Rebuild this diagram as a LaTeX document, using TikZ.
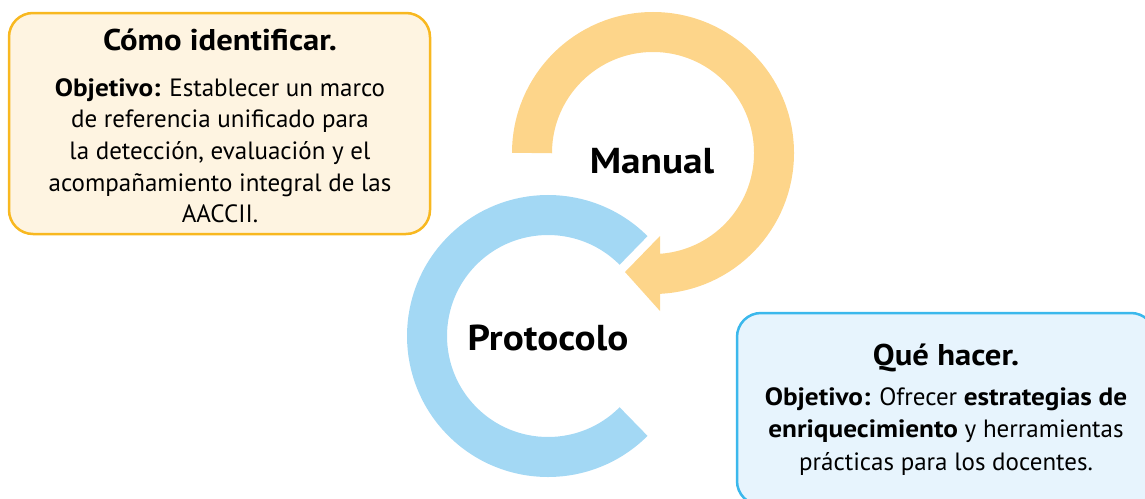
\documentclass[tikz,border=0pt]{standalone}
\usepackage{fontspec}
\setmainfont{PT Sans}[BoldFeatures={FakeStretch=1.09}]
\usetikzlibrary{calc}
\definecolor{arcorange}{HTML}{FDD58A}
\definecolor{arcblue}{HTML}{A3D8F4}
\definecolor{ybord}{HTML}{F8B820}
\definecolor{yfill}{HTML}{FEF4E1}
\definecolor{bbord}{HTML}{3BB8EC}
\definecolor{bfill}{HTML}{E7F4FD}
\tikzset{
  x=1pt, y=1pt,
  card/.style={draw, line width=2.5pt, rounded corners=24pt, inner sep=0pt, anchor=center},
  cardtitle/.style={anchor=base, inner sep=0pt, font=\fontsize{30}{34}\selectfont\bfseries},
  cardbody/.style={anchor=north, inner sep=0pt, align=center, font=\fontsize{25}{31.7}\selectfont},
  ringlabel/.style={inner sep=0pt, font=\fontsize{36}{40}\selectfont\bfseries},
  band/.style={line width=40pt},
}
\begin{document}
\begin{tikzpicture}
\useasboundingbox (0,0) rectangle (1145,-498);
\clip (0,0) rectangle (1145,-498);
% centres of the two rings
\coordinate (oc) at (653,-153);
\coordinate (bc) at (548,-336);
% orange ring with arrowhead
\draw[band, draw=arcorange] ($(oc)+(180:121)$) arc[start angle=180, end angle=-88, radius=121];
\coordinate (ahtop) at (660,-236);
\coordinate (ahtip) at (625,-272);
\coordinate (ahbot) at (660,-311);
\fill[arcorange] (ahtop) -- (ahtip) -- (ahbot) -- cycle;
% blue ring
\draw[band, draw=arcblue] ($(bc)+(45:121)$) arc[start angle=45, end angle=315, radius=121];
% ring labels
\node[ringlabel] (manual) at (652,-161) {Manual};
\node[ringlabel] (protocolo) at (548,-338) {Protocolo};
% yellow card
\node[card, draw=ybord, fill=yfill, minimum width=421pt, minimum height=221pt] (ycard) at (219.5,-123.5) {};
\node[cardtitle] (ytitle) at (220,-50) {Cómo identificar.};
\node[cardbody] (ybody) at (220,-78) {\textbf{Objetivo:} Establecer un marco\\de referencia unificado para\\la detección, evaluación y el\\acompañamiento integral de las\\AACCII.};
% blue card
\node[card, draw=bbord, fill=bfill, minimum width=418pt, minimum height=192pt] (bcard) at (946,-409) {};
\node[cardtitle] (btitle) at (946,-365) {Qué hacer.};
\node[cardbody, font=\fontsize{25}{32.5}\selectfont] (bbody) at (946,-387) {\textbf{Objetivo:} Ofrecer \textbf{estrategias de}\\\textbf{enriquecimiento} y herramientas\\prácticas para los docentes.};
\end{tikzpicture}
\end{document}
